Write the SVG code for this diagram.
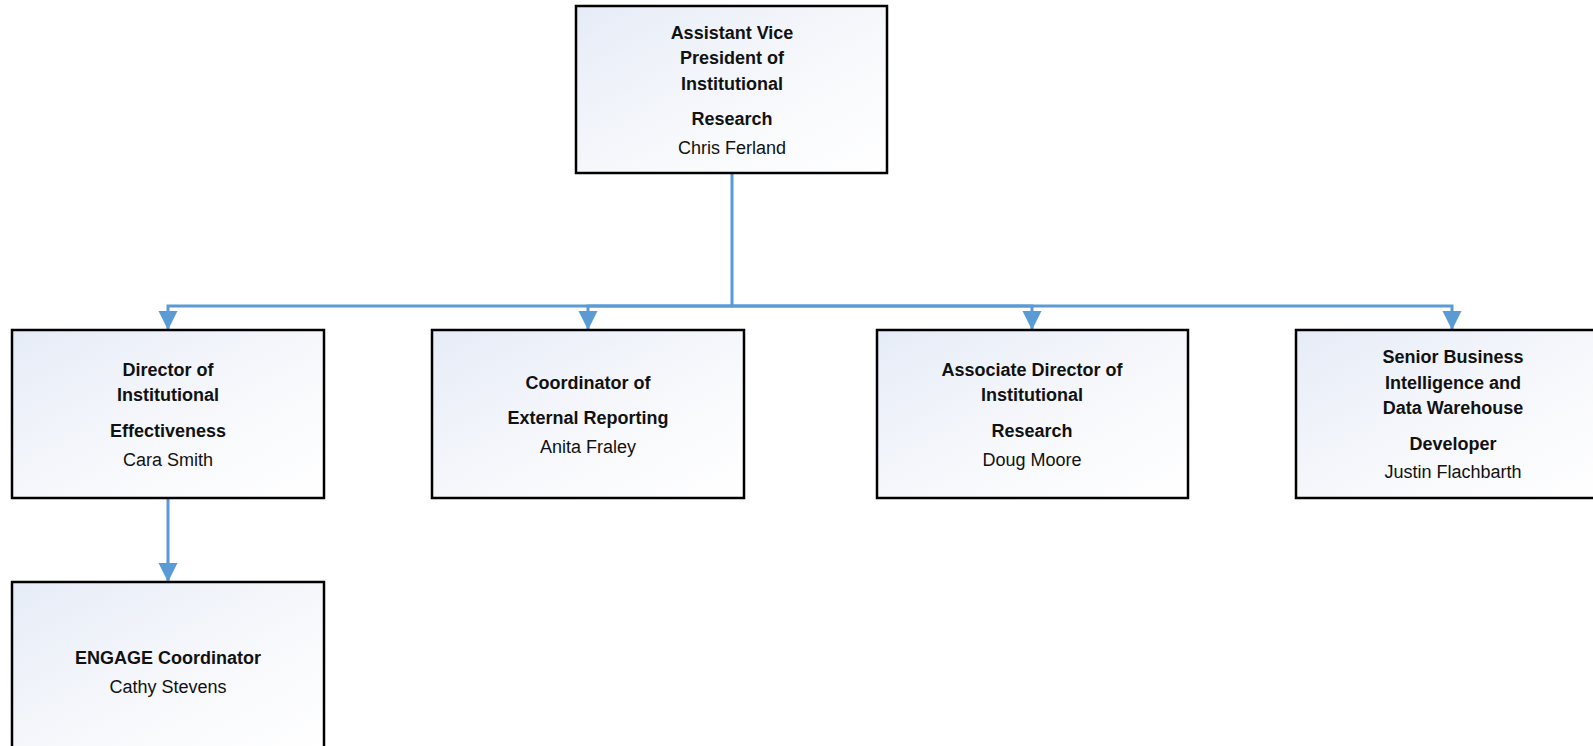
<svg xmlns="http://www.w3.org/2000/svg" width="1593" height="746" viewBox="0 0 1593 746">
<defs>
<linearGradient id="g" x1="0" y1="0" x2="1" y2="1">
<stop offset="0" stop-color="#e6ecf7"/>
<stop offset="0.6" stop-color="#f8f9fc"/>
<stop offset="1" stop-color="#ffffff"/>
</linearGradient>
<marker id="arr" markerUnits="userSpaceOnUse" markerWidth="20" markerHeight="20" refX="19" refY="9.5" orient="auto" viewBox="0 0 20 19">
<path d="M0,0 L19,9.5 L0,19 z" fill="#5b9bd5"/>
</marker>
<style>
.box{fill:url(#g);stroke:#000;stroke-width:2.5}
.t{font-family:"Liberation Sans",Arial,sans-serif;font-size:18px;font-weight:bold;fill:#111;text-anchor:middle}
.n{font-family:"Liberation Sans",Arial,sans-serif;font-size:18px;fill:#111;text-anchor:middle}
.c{fill:none;stroke:#5b9bd5;stroke-width:3}
</style>
</defs>
<g id="connectors">
<path class="c" d="M732,173 V306 H168 V330" marker-end="url(#arr)"/>
<path class="c" d="M732,306 H588 V330" marker-end="url(#arr)"/>
<path class="c" d="M732,306 H1032 V330" marker-end="url(#arr)"/>
<path class="c" d="M732,306 H1452 V330" marker-end="url(#arr)"/>
<path class="c" d="M168,498 V582" marker-end="url(#arr)"/>
</g>
<g id="avp">
<rect class="box" x="576" y="6" width="311" height="167"/>
<text class="t" x="732" y="39">Assistant Vice</text>
<text class="t" x="732" y="64">President of</text>
<text class="t" x="732" y="90">Institutional</text>
<text class="t" x="732" y="125">Research</text>
<text class="n" x="732" y="154">Chris Ferland</text>
</g>
<g id="director">
<rect class="box" x="12" y="330" width="312" height="168"/>
<text class="t" x="168" y="376">Director of</text>
<text class="t" x="168" y="401">Institutional</text>
<text class="t" x="168" y="437">Effectiveness</text>
<text class="n" x="168" y="466">Cara Smith</text>
</g>
<g id="coordinator">
<rect class="box" x="432" y="330" width="312" height="168"/>
<text class="t" x="588" y="389">Coordinator of</text>
<text class="t" x="588" y="424">External Reporting</text>
<text class="n" x="588" y="453">Anita Fraley</text>
</g>
<g id="associate">
<rect class="box" x="877" y="330" width="311" height="168"/>
<text class="t" x="1032" y="376">Associate Director of</text>
<text class="t" x="1032" y="401">Institutional</text>
<text class="t" x="1032" y="437">Research</text>
<text class="n" x="1032" y="466">Doug Moore</text>
</g>
<g id="senior">
<rect class="box" x="1296" y="330" width="312" height="168"/>
<text class="t" x="1453" y="363">Senior Business</text>
<text class="t" x="1453" y="389">Intelligence and</text>
<text class="t" x="1453" y="414">Data Warehouse</text>
<text class="t" x="1453" y="450">Developer</text>
<text class="n" x="1453" y="478">Justin Flachbarth</text>
</g>
<g id="engage">
<rect class="box" x="12" y="582" width="312" height="170"/>
<text class="t" x="168" y="664">ENGAGE Coordinator</text>
<text class="n" x="168" y="693">Cathy Stevens</text>
</g>
</svg>
